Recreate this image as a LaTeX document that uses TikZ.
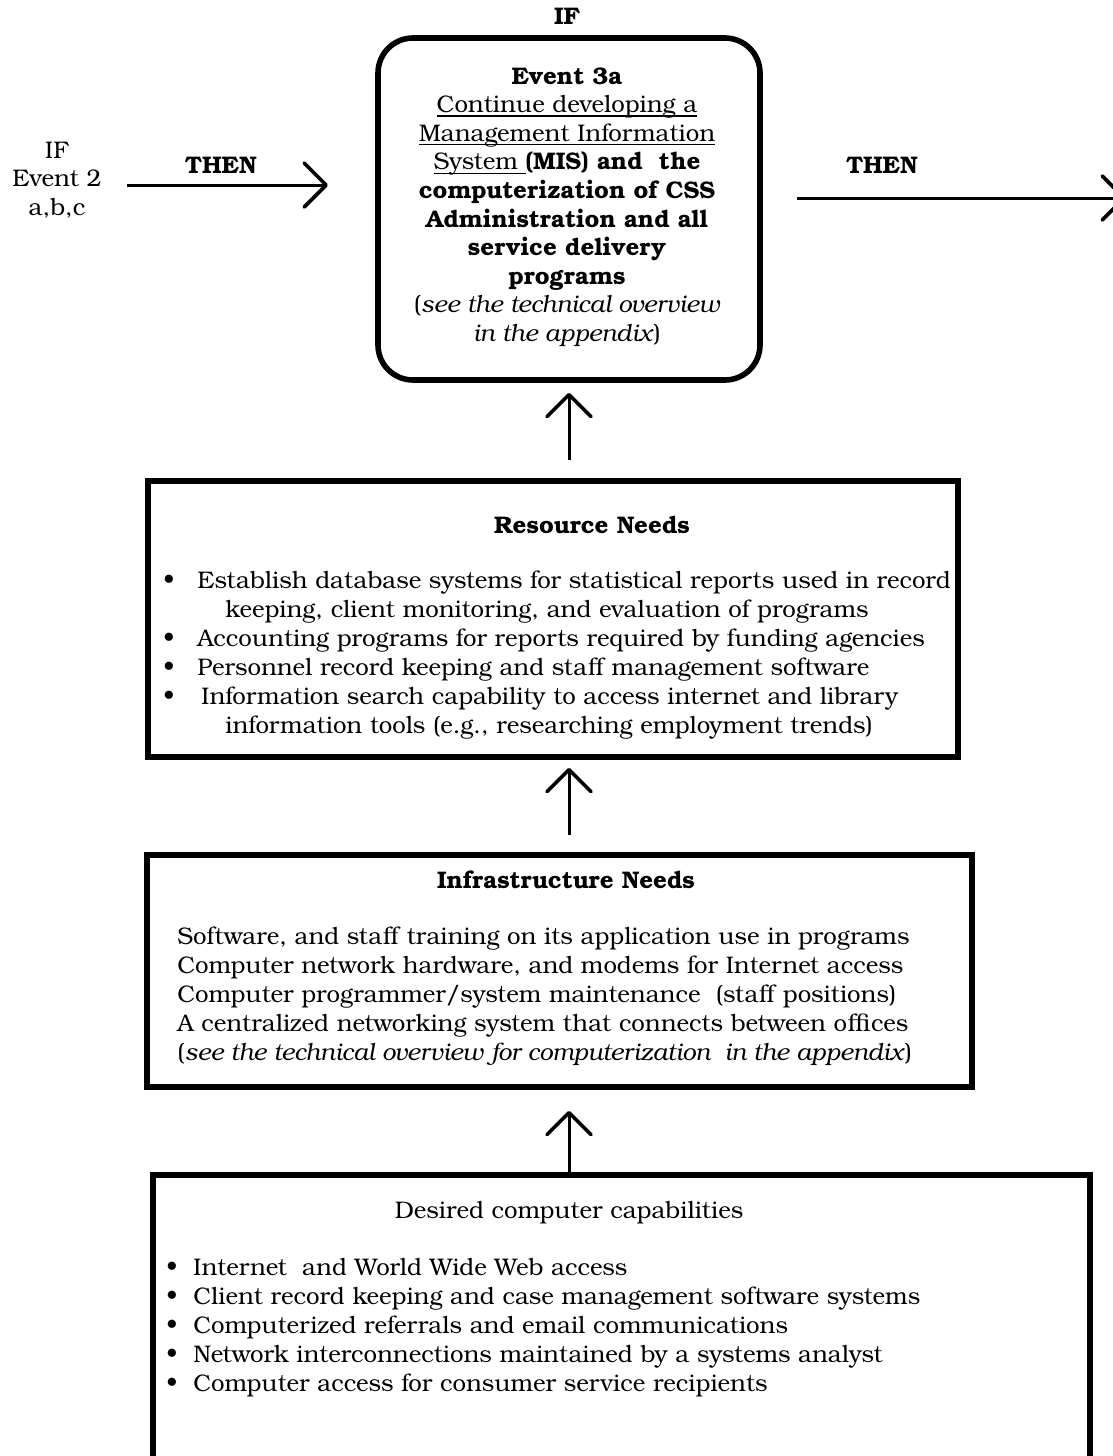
\documentclass[tikz,border=0pt]{standalone}
\usepackage{fontspec}
\setmainfont{TeX Gyre Bonum}
\usetikzlibrary{arrows.meta}
\newlength\ulwidth
\newcommand\ultext[1]{\settowidth\ulwidth{#1}\rlap{\rule[-2pt]{\ulwidth}{0.6pt}}#1}
\newcommand\itembul[1]{\makebox[#1][l]{\textbullet}}

\begin{document}
\begin{tikzpicture}[x=0.5pt,y=-0.5pt,
  every node/.style={inner sep=0pt, font=\fontsize{12}{14.5}\selectfont},
  boxframe/.style={draw, line width=2.8pt, inner sep=0pt},
  flow/.style={line width=1.5pt,
    -{Straight Barb[length=11pt,width=22pt,line width=1.8pt,round]}},
  headline/.style={font=\fontsize{12}{14}\selectfont\bfseries},
  bodytext/.style={font=\fontsize{12}{14.5}\selectfont},
]
\useasboundingbox (0,0) rectangle (1113,1456);

% central event box
\node[headline] (iftop) at (567,16) {IF};
\node[boxframe, rounded corners=17.5pt, minimum width=191pt,
      minimum height=171pt] (event) at (569,209) {};
\node[align=center, font=\fontsize{12}{14.3}\selectfont] (eventtxt) at (567,207)
  {\textbf{Event 3a}\\
   \ultext{Continue developing a}\\
   \ultext{Management Information}\\
   \ultext{System\ }\textbf{(MIS) and\ \ the}\\
   \textbf{computerization of CSS}\\
   \textbf{Administration and all}\\
   \textbf{service delivery}\\
   \textbf{programs}\\
   (\textit{see the technical overview}\\
   \textit{in the appendix})};

% incoming condition
\node[align=center, font=\fontsize{12}{14.25}\selectfont] (ifleft) at (57,180)
  {IF\\Event 2\\a,b,c};
\node[headline] (thenleft) at (221,165) {THEN};
\coordinate (inA) at (127,185);
\coordinate (inB) at (328,185);
\draw[flow] (inA) -- (inB);

% outgoing consequence
\node[headline] (thenright) at (882,165) {THEN};
\coordinate (outA) at (797,198);
\coordinate (outB) at (1126,198);
\draw[flow] (outA) -- (outB);

% resource needs
\node[boxframe, minimum width=405pt, minimum height=138pt] (res) at (553,619) {};
\node[headline] (restitle) at (592,525) {Resource Needs};
\node[bodytext, anchor=west, align=left] (reslist) at (163,655)
  {\itembul{17pt}Establish database systems for statistical reports used in record\\
   \hspace*{31pt}keeping, client monitoring, and evaluation of programs\\
   \itembul{17pt}Accounting programs for reports required by funding agencies\\
   \itembul{17pt}Personnel record keeping and staff management software\\
   \itembul{19pt}Information search capability to access internet and library\\
   \hspace*{31pt}information tools (e.g., researching employment trends)};

% infrastructure needs
\node[boxframe, minimum width=412.5pt, minimum height=116pt] (infra) at (559.5,971) {};
\node[headline] (infratitle) at (566,880) {Infrastructure Needs};
\node[bodytext, anchor=west, align=left] (infralist) at (177,996.5)
  {Software, and staff training on its application use in programs\\
   Computer network hardware, and modems for Internet access\\
   Computer programmer/system maintenance\ \ (staff positions)\\
   A centralized networking system that connects between offices\\
   (\textit{see the technical overview for computerization\ \ in the appendix})};

% desired capabilities
\node[boxframe, minimum width=468.5pt, minimum height=212.5pt] (desired) at (621.5,1387.5) {};
\node[bodytext] (destitle) at (569,1213) {Desired computer capabilities};
\node[bodytext, anchor=west, align=left] (deslist) at (166,1327.5)
  {\itembul{13.5pt}Internet\ \ and World Wide Web access\\
   \itembul{13.5pt}Client record keeping and case management software systems\\
   \itembul{13.5pt}Computerized referrals and email communications\\
   \itembul{13.5pt}Network interconnections maintained by a systems analyst\\
   \itembul{13.5pt}Computer access for consumer service recipients};

% upward flow between levels
\draw[flow, shorten <=9pt, shorten >=5pt] (event.south |- res.north) -- (event.south);
\draw[flow, shorten <=8.5pt, shorten >=4pt] (event.south |- infra.north) -- (event.south |- res.south);
\draw[flow, shorten >=10.5pt] (event.south |- desired.north) -- (event.south |- infra.south);
\end{tikzpicture}
\end{document}
